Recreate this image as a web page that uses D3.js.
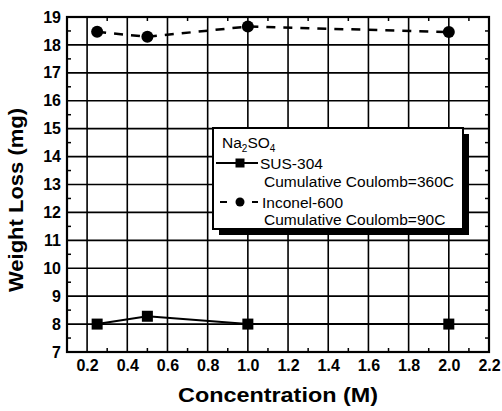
<!DOCTYPE html>
<html><head><meta charset="utf-8">
<script src="https://cdn.jsdelivr.net/npm/d3@7"></script>
<style>body{margin:0;background:#fff}svg{display:block}</style>
</head><body><div id="chart"></div>
<script>
const concentration = [0.25, 0.5, 1.0, 2.0];
const sus304 = [8.0, 8.28, 8.0, 8.0];
const inconel600 = [18.47, 18.29, 18.66, 18.46];
const xTicks = [0.2,0.4,0.6,0.8,1.0,1.2,1.4,1.6,1.8,2.0,2.2];
const yTicks = [7,8,9,10,11,12,13,14,15,16,17,18,19];
const xMinor = [0.1,0.3,0.5,0.7,0.9,1.1,1.3,1.5,1.7,1.9,2.1];
const yMinor = [7.5,8.5,9.5,10.5,11.5,12.5,13.5,14.5,15.5,16.5,17.5,18.5];

const W = 502, H = 411;
const L = 67, R = 489, T = 17, B = 352;
const svg = d3.select("#chart").append("svg").attr("width", W).attr("height", H);
const x = d3.scaleLinear().domain([0.1, 2.2]).range([L, R]);
const y = d3.scaleLinear().domain([7, 19]).range([B, T]);
const font = "'Liberation Sans', Arial, Helvetica, sans-serif";

// gridlines
svg.append("g").selectAll("line").data(xTicks.filter(d => d < 2.15)).join("line")
  .attr("x1", d => x(d)).attr("x2", d => x(d)).attr("y1", T).attr("y2", B)
  .attr("stroke", "#000").attr("stroke-width", 1.6);
svg.append("g").selectAll("line").data(yTicks.filter(d => d > 7 && d < 19)).join("line")
  .attr("y1", d => y(d)).attr("y2", d => y(d)).attr("x1", L).attr("x2", R)
  .attr("stroke", "#000").attr("stroke-width", 1.6);

// minor ticks (inward) on all sides
const mt = 4;
svg.append("g").selectAll("line").data(yMinor).join("line")
  .attr("x1", L).attr("x2", L + mt).attr("y1", d => y(d)).attr("y2", d => y(d))
  .attr("stroke", "#000").attr("stroke-width", 1.5);
svg.append("g").selectAll("line").data(yMinor).join("line")
  .attr("x1", R).attr("x2", R - mt).attr("y1", d => y(d)).attr("y2", d => y(d))
  .attr("stroke", "#000").attr("stroke-width", 1.5);
svg.append("g").selectAll("line").data(xMinor.filter(d => d > 0.15)).join("line")
  .attr("x1", d => x(d)).attr("x2", d => x(d)).attr("y1", B).attr("y2", B - mt)
  .attr("stroke", "#000").attr("stroke-width", 1.5);
svg.append("g").selectAll("line").data(xMinor.filter(d => d > 0.15)).join("line")
  .attr("x1", d => x(d)).attr("x2", d => x(d)).attr("y1", T).attr("y2", T + mt)
  .attr("stroke", "#000").attr("stroke-width", 1.5);

// frame
svg.append("rect").attr("x", L).attr("y", T).attr("width", R - L).attr("height", B - T)
  .attr("fill", "none").attr("stroke", "#000").attr("stroke-width", 2.2);

// axes labels via d3 axes
const xAxis = svg.append("g").attr("transform", `translate(0,${B})`)
  .call(d3.axisBottom(x).tickValues(xTicks).tickFormat(d3.format(".1f")).tickSize(0).tickPadding(8));
xAxis.select(".domain").remove();
xAxis.selectAll("text").attr("font-family", font).attr("font-weight", "bold").attr("font-size", 16).attr("fill", "#000");

const yAxis = svg.append("g").attr("transform", `translate(${L},0)`)
  .call(d3.axisLeft(y).tickValues(yTicks).tickFormat(d3.format("d")).tickSize(0).tickPadding(6));
yAxis.select(".domain").remove();
yAxis.selectAll("text").attr("font-family", font).attr("font-weight", "bold").attr("font-size", 16).attr("fill", "#000");

// titles
svg.append("text").attr("x", (L + R) / 2).attr("y", 402).attr("text-anchor", "middle")
  .attr("font-family", font).attr("font-weight", "bold").attr("font-size", 21)
  .attr("textLength", 200).attr("lengthAdjust", "spacingAndGlyphs")
  .text("Concentration (M)");
svg.append("text").attr("transform", `translate(23,${200}) rotate(-90)`).attr("text-anchor", "middle")
  .attr("font-family", font).attr("font-weight", "bold").attr("font-size", 21)
  .attr("textLength", 184).attr("lengthAdjust", "spacingAndGlyphs")
  .text("Weight Loss (mg)");

// series
const line = d3.line().x(d => x(d[0])).y(d => y(d[1]));
const susPts = concentration.map((c, i) => [c, sus304[i]]);
const incPts = concentration.map((c, i) => [c, inconel600[i]]);
svg.append("path").attr("d", line(susPts)).attr("fill", "none").attr("stroke", "#000").attr("stroke-width", 2);
svg.append("path").attr("d", line(incPts)).attr("fill", "none").attr("stroke", "#000").attr("stroke-width", 2.5)
  .attr("stroke-dasharray", "9,8");
const ms = 11;
svg.append("g").selectAll("rect").data(susPts).join("rect")
  .attr("x", d => x(d[0]) - ms / 2).attr("y", d => y(d[1]) - ms / 2).attr("width", ms).attr("height", ms).attr("fill", "#000");
svg.append("g").selectAll("circle").data(incPts).join("circle")
  .attr("cx", d => x(d[0])).attr("cy", d => y(d[1])).attr("r", 6).attr("fill", "#000");

// legend
const lx = 213, ly = 128, lw = 250, lh = 101, sh = 6;
const lg = svg.append("g");
lg.append("rect").attr("x", lx + sh).attr("y", ly + sh).attr("width", lw).attr("height", lh).attr("fill", "#000");
lg.append("rect").attr("x", lx).attr("y", ly).attr("width", lw).attr("height", lh)
  .attr("fill", "#fff").attr("stroke", "#000").attr("stroke-width", 2);
const lt = lg.append("text").attr("x", lx + 9).attr("y", ly + 20).attr("font-family", font).attr("font-size", 15.5);
lt.append("tspan").text("Na");
lt.append("tspan").attr("font-size", 10).attr("dy", 4).text("2");
lt.append("tspan").attr("dy", -4).text("SO");
lt.append("tspan").attr("font-size", 10).attr("dy", 4).text("4");

lg.append("line").attr("x1", lx + 3).attr("x2", lx + 45).attr("y1", ly + 35).attr("y2", ly + 35).attr("stroke", "#000").attr("stroke-width", 2);
lg.append("rect").attr("x", lx + 27 - 4.5).attr("y", ly + 35 - 4.5).attr("width", 9).attr("height", 9).attr("fill", "#000");
lg.append("text").attr("x", lx + 47).attr("y", ly + 41).attr("font-family", font).attr("font-size", 15.5).text("SUS-304");
lg.append("text").attr("x", lx + 51).attr("y", ly + 59).attr("font-family", font).attr("font-size", 15.5).text("Cumulative Coulomb=360C");

lg.append("line").attr("x1", lx + 7).attr("x2", lx + 45).attr("y1", ly + 74).attr("y2", ly + 74).attr("stroke", "#000").attr("stroke-width", 2)
  .attr("stroke-dasharray", "7,9");
lg.append("circle").attr("cx", lx + 27).attr("cy", ly + 74).attr("r", 4.5).attr("fill", "#000");
lg.append("text").attr("x", lx + 49).attr("y", ly + 80).attr("font-family", font).attr("font-size", 15.5).text("Inconel-600");
lg.append("text").attr("x", lx + 51).attr("y", ly + 97).attr("font-family", font).attr("font-size", 15.5).text("Cumulative Coulomb=90C");
</script></body></html>
